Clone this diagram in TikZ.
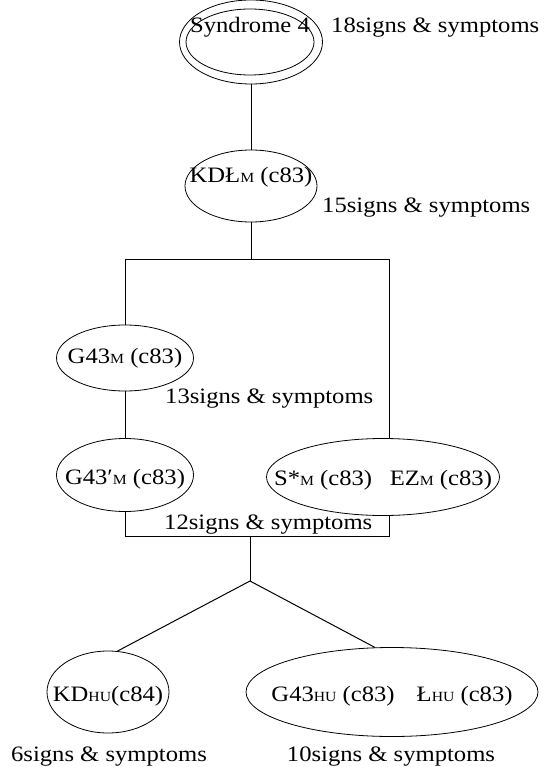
\documentclass[tikz,border=0pt]{standalone}
\usepackage{fontspec}
\setmainfont[FakeStretch=1.12]{Liberation Serif}
\usetikzlibrary{shapes.geometric}
% small subscript letters sitting on the baseline
\newcommand{\sbs}[1]{{\fontsize{14}{14}\selectfont #1}}
% zero-size label inside an ellipse, raised by the optional amount
\newcommand{\etext}[2][-7pt]{\makebox[0pt]{\raisebox{#1}{#2}}}
\begin{document}
\begin{tikzpicture}[x=1pt, y=-1pt,
  font=\fontsize{22}{26}\selectfont,
  ell/.style={draw, ellipse, inner sep=0pt, text height=0pt, text depth=0pt, line width=0.8pt},
  conn/.style={line width=1pt},
  tag/.style={inner sep=0pt, anchor=base west}]
\useasboundingbox (0,0) rectangle (544,767);

% syndrome and its groups
\node[ell, minimum width=143pt, minimum height=84pt] (synring) at (251,42) {};
\node[ell, minimum width=128pt, minimum height=66pt] (syn) at (250,42) {\etext[9pt]{Syndrome 4}};
\node[ell, minimum width=132pt, minimum height=72pt] (kdl) at (251,186) {\etext[3pt]{KDŁ\sbs{M} (c83)}};
\node[ell, minimum width=137pt, minimum height=66pt] (g43) at (125,358) {\etext[-5pt]{G43\sbs{M} (c83)}};
\node[ell, minimum width=137pt, minimum height=73pt] (g43p) at (125,475) {\etext[-9pt]{G43′\sbs{M} (c83)}};
\node[ell, minimum width=233pt, minimum height=77pt] (sez) at (383,477) {\etext[-8pt]{S*\sbs{M} (c83)\hspace{0.8em}EZ\sbs{M} (c83)}};
\node[ell, minimum width=122pt, minimum height=82pt] (kdhu) at (108,692) {\etext[-9pt]{KD\sbs{HU}(c84)}};
\node[ell, minimum width=292pt, minimum height=89pt] (g43hu) at (392,692) {\etext[-9pt]{G43\sbs{HU} (c83)\hspace{1em}Ł\sbs{HU} (c83)}};

% sign counts
\node[tag] (t18) at (331,33) {18signs \& symptoms};
\node[tag] (t15) at (322,212) {15signs \& symptoms};
\node[tag] (t13) at (165,403) {13signs \& symptoms};
\node[tag] (t12) at (164,529) {12signs \& symptoms};
\node[tag, anchor=base] (t6) at (109,761) {6signs \& symptoms};
\node[tag, anchor=base] (t10) at (391,761) {10signs \& symptoms};

% junction points
\coordinate (b) at (251,259);
\coordinate (rj) at (389,259);
\coordinate (m) at (250,536);
\coordinate (rb) at (389,536);
\coordinate (apex) at (250,581);

% connectors
\draw[conn] (synring.south) -- (kdl.north);
\draw[conn] (kdl.south) -- (b);
\draw[conn] (g43.north) |- (rj) -- (rj |- sez.north);
\draw[conn] (g43.south) -- (g43p.north);
\draw[conn] (g43p.south) |- (rb) -- (rb |- sez.south);
\draw[conn] (m) -- (apex);
\draw[conn] (apex) -- (kdhu.77);
\draw[conn] (apex) -- (g43hu.111);
\end{tikzpicture}
\end{document}
